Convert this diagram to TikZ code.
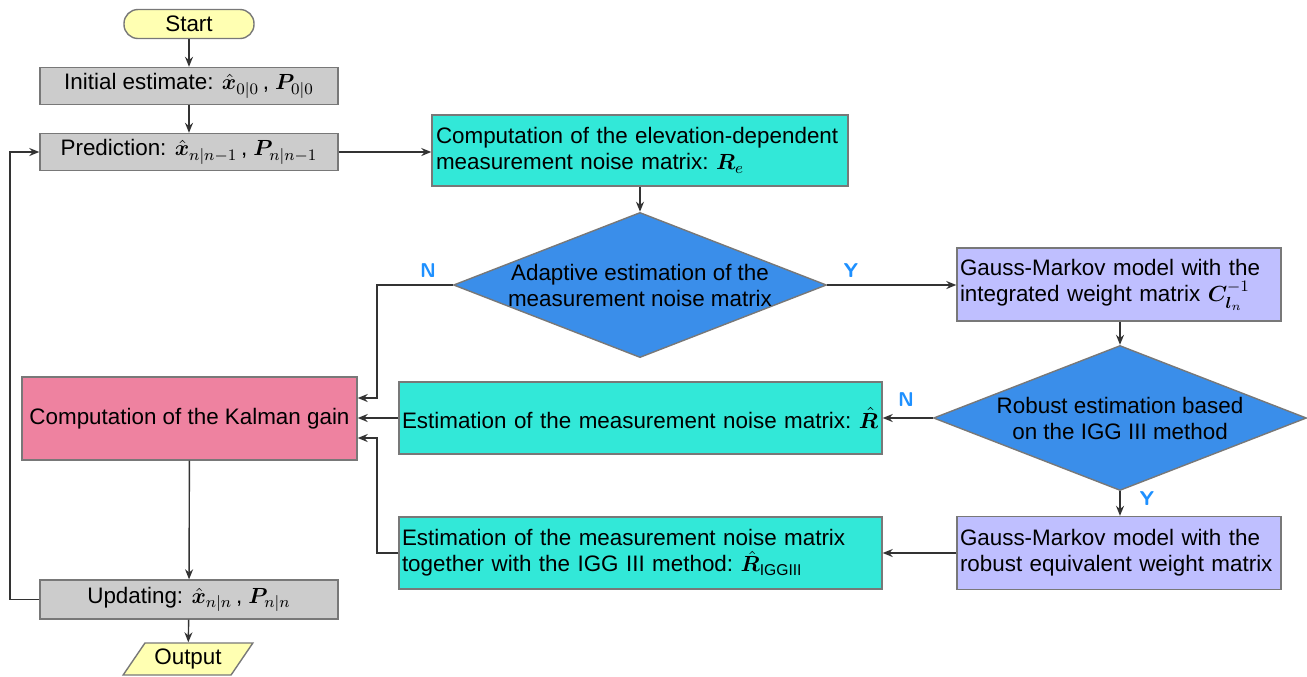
\documentclass[tikz,border=0pt]{standalone}
\usepackage{fontspec}
\setmainfont{Liberation Sans}
\usepackage{amsmath,bm}
\usetikzlibrary{shapes.geometric,arrows.meta}
\definecolor{boxgray}{RGB}{204,204,204}
\definecolor{edgegray}{RGB}{120,120,120}
\definecolor{termyellow}{RGB}{255,255,178}
\definecolor{tealfill}{RGB}{50,232,216}
\definecolor{decblue}{RGB}{58,142,234}
\definecolor{lavender}{RGB}{191,191,255}
\definecolor{gainpink}{RGB}{238,130,160}
\definecolor{ynblue}{RGB}{30,144,255}
\newcommand{\fsz}{\fontsize{11.2}{13}\selectfont}
\newcommand{\vx}{\bm{\hat{x}}}
\newcommand{\vP}{\bm{P}}
\tikzset{
	flownode/.style = {align=center, inner sep=2pt, draw=edgegray, line width=0.7pt, font=\fsz},
	terminal/.style = {flownode, fill=termyellow, rounded corners=7pt, minimum width=65pt, minimum height=14.5pt},
	iobox/.style = {flownode, trapezium, trapezium left angle=50, trapezium right angle=130, trapezium stretches=true, fill=termyellow, inner sep=0pt, minimum width=65pt, minimum height=16pt},
	grayproc/.style = {flownode, fill=boxgray, minimum width=149pt, minimum height=18.5pt},
	tealproc/.style = {flownode, fill=tealfill, align=left, inner xsep=2pt, minimum height=36pt},
	lavproc/.style = {flownode, fill=lavender, align=left, inner xsep=1.5pt, minimum width=162pt, text width=159pt, minimum height=36.5pt},
	decision/.style = {flownode, diamond, fill=decblue, aspect=2.57, inner sep=0pt, minimum width=186.5pt, minimum height=72.5pt},
	gainbox/.style = {flownode, fill=gainpink, minimum width=167.5pt, minimum height=41.5pt},
	yn/.style = {font=\sffamily\bfseries\fontsize{10}{12}\selectfont, text=ynblue, inner sep=0pt},
	arr/.style = {-{Stealth[length=5pt,width=4pt]}, line width=0.7pt, draw=black!80},
	wire/.style = {line width=0.7pt, draw=black!80}
}
\begin{document}
\begin{tikzpicture}[x=0.5pt, y=-0.5pt]
	\useasboundingbox (0,0) rectangle (1307,676);
	\node [terminal] (start) at (189,24) {Start};
	\node [grayproc] (init) at (189,86) {Initial estimate: $\vx_{0|0}$\,, $\vP_{0|0}$};
	\node [grayproc] (pred) at (189,152) {Prediction: $\vx_{n|n-1}$\,, $\vP_{n|n-1}$};
	\node [tealproc, minimum width=208pt, text width=204pt, minimum height=35.5pt] (elev) at (640,150.5)
		{Computation of the elevation-dependent\\measurement noise matrix:~$\bm{R}_e$};
	\node [decision] (adapt) at (640,285) {Adaptive estimation of the\\measurement noise matrix};
	\node [lavproc] (gmint) at (1119,284.5) {Gauss-Markov model with the\\integrated weight matrix~$\bm{C}_{\bm{l}_n}^{-1}$};
	\node [decision] (robust) at (1120,418) {Robust estimation based\\on the IGG III method};
	\node [gainbox] (gain) at (189.5,418.5) {Computation of the Kalman gain};
	\node [tealproc, minimum width=241.5pt, text width=238.5pt, inner xsep=1.5pt] (rhat) at (640.5,418)
		{Estimation of the measurement noise matrix:~$\bm{\hat{R}}$};
	\node [lavproc] (gmrob) at (1119,553) {Gauss-Markov model with the\\robust equivalent weight matrix};
	\node [tealproc, minimum width=241.5pt, text width=238.5pt, inner xsep=1.5pt] (rigg) at (640.5,553)
		{Estimation of the measurement noise matrix\\together with the IGG III method:~$\bm{\hat{R}}_{\mathrm{IGGIII}}$};
	\node [grayproc, minimum height=19.5pt] (upd) at (189,599.5) {Updating: $\vx_{n|n}$\,, $\vP_{n|n}$};
	\node [iobox] (out) at (188,659) {Output};

	\coordinate (busN) at (377,398);
	\coordinate (busY) at (377,438);
	\coordinate (loop) at (10,599.5);

	\node [yn] (nA) at (428,271) {N};
	\node [yn] (yA) at (851,271) {Y};
	\node [yn] (nB) at (906,400) {N};
	\node [yn] (yB) at (1147,499) {Y};

	\draw [arr] (start) -- (init);
	\draw [arr] (init) -- (pred);
	\draw [arr] (pred.east) -- (pred.east -| elev.west);
	\draw [arr] (elev) -- (adapt);
	\draw [arr] (adapt.west) -| (busN) -- (busN -| gain.east);
	\draw [arr] (adapt.east) -- (adapt.east -| gmint.west);
	\draw [arr] (gmint.south -| robust.north) -- (robust.north);
	\draw [arr] (robust.west) -- (robust.west -| rhat.east);
	\draw [arr] (robust.south) -- (robust.south |- gmrob.north);
	\draw [arr] (gmrob.west) -- (gmrob.west -| rigg.east);
	\draw [arr] (rhat.west) -- (rhat.west -| gain.east);
	\draw [arr] (rigg.west) -| (busY) -- (busY -| gain.east);
	\draw [arr] (gain) -- (upd);
	\draw [arr] (upd.west) -- (loop) |- (pred.west);
	\draw [arr] (upd) -- (out);
\end{tikzpicture}
\end{document}
